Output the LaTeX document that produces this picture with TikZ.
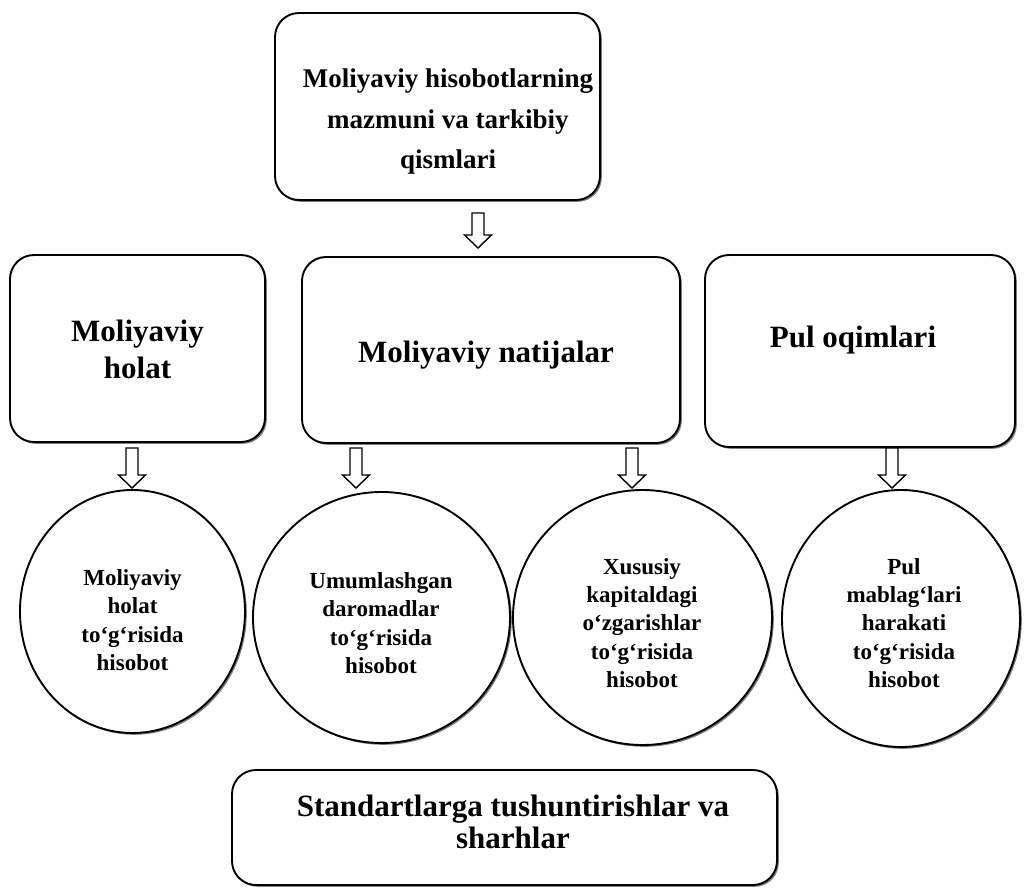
\documentclass[tikz,border=0pt]{standalone}
\usepackage{fontspec}
\setmainfont{Liberation Serif}
\usetikzlibrary{shapes.geometric,shadows}
\begin{document}
\begin{tikzpicture}[x=1pt,y=-1pt,
  shad/.style={drop shadow={shadow xshift=1.8pt,shadow yshift=-1.8pt,fill=black!60,opacity=0.85}},
  box/.style={draw,line width=1.9pt,rounded corners=24pt,fill=white,inner sep=0pt,shad},
  ell/.style={draw,ellipse,line width=1.9pt,fill=white,inner sep=0pt,shad},
  txt/.style={align=center,inner sep=0pt},
  ctxt/.style={txt,font=\fontsize{23}{28.3}\selectfont\bfseries},
  rtxt/.style={txt,font=\fontsize{31}{37}\selectfont\bfseries},
  harrow/.style={draw,line width=1.4pt,fill=white,line join=miter}
]
\useasboundingbox (0,0) rectangle (1025,892);
\fill[white] (0,0) rectangle (1025,892);

% top box
\node[box,minimum width=325pt,minimum height=187pt] (top) at (437.5,106.5) {};
\node[txt,font=\fontsize{27}{40.5}\selectfont\bfseries] (topt) at (448,122)
  {Moliyaviy hisobotlarning\\mazmuni va tarkibiy\\qismlari};

% second row
\node[box,minimum width=255pt,minimum height=187pt] (b1) at (137.5,348.5) {};
\node[rtxt] (b1t) at (137.5,349) {Moliyaviy\\holat};
\node[box,minimum width=378pt,minimum height=186pt] (b2) at (491,350) {};
\node[rtxt] (b2t) at (486,355) {Moliyaviy natijalar};
\node[box,minimum width=310pt,minimum height=192pt] (b3) at (860,351) {};
\node[rtxt] (b3t) at (853,340) {Pul oqimlari};

% circles
\node[ell,minimum width=225pt,minimum height=243pt] (c1) at (132.5,611.5) {};
\node[ctxt] (c1t) at (132.5,620) {Moliyaviy\\holat\\to‘g‘risida\\hisobot};
\node[ell,minimum width=257pt,minimum height=251pt] (c2) at (381.5,617.5) {};
\node[ctxt] (c2t) at (381,623) {Umumlashgan\\daromadlar\\to‘g‘risida\\hisobot};
\node[ell,minimum width=259pt,minimum height=255pt] (c3) at (642.5,617.5) {};
\node[ctxt] (c3t) at (642,623) {Xususiy\\kapitaldagi\\o‘zgarishlar\\to‘g‘risida\\hisobot};
\node[ell,minimum width=238pt,minimum height=257pt] (c4) at (901,618.5) {};
\node[ctxt] (c4t) at (904,623) {Pul\\mablag‘lari\\harakati\\to‘g‘risida\\hisobot};

% bottom box
\node[box,minimum width=545pt,minimum height=115pt] (bot) at (504.5,827.5) {};
\node[txt,font=\fontsize{31}{32.5}\selectfont\bfseries] (bott) at (513,822)
  {Standartlarga tushuntirishlar va\\sharhlar};

% hollow arrows
\coordinate (a0) at (478,213);
\coordinate (a1) at (132,448);
\coordinate (a2) at (356,448);
\coordinate (a3) at (632,448);
\coordinate (a4) at (892,448);
\draw[harrow] (a0) ++(-6,0) -- ++(0,22) -- ++(-7.5,0) -- ++(13.5,13) -- ++(13.5,-13) -- ++(-7.5,0) -- ++(0,-22) -- cycle;
\foreach \a in {a1,a2,a3,a4}{
  \draw[harrow] (\a) ++(-6,0) -- ++(0,27) -- ++(-7.5,0) -- ++(13.5,13) -- ++(13.5,-13) -- ++(-7.5,0) -- ++(0,-27) -- cycle;
}
\end{tikzpicture}
\end{document}
